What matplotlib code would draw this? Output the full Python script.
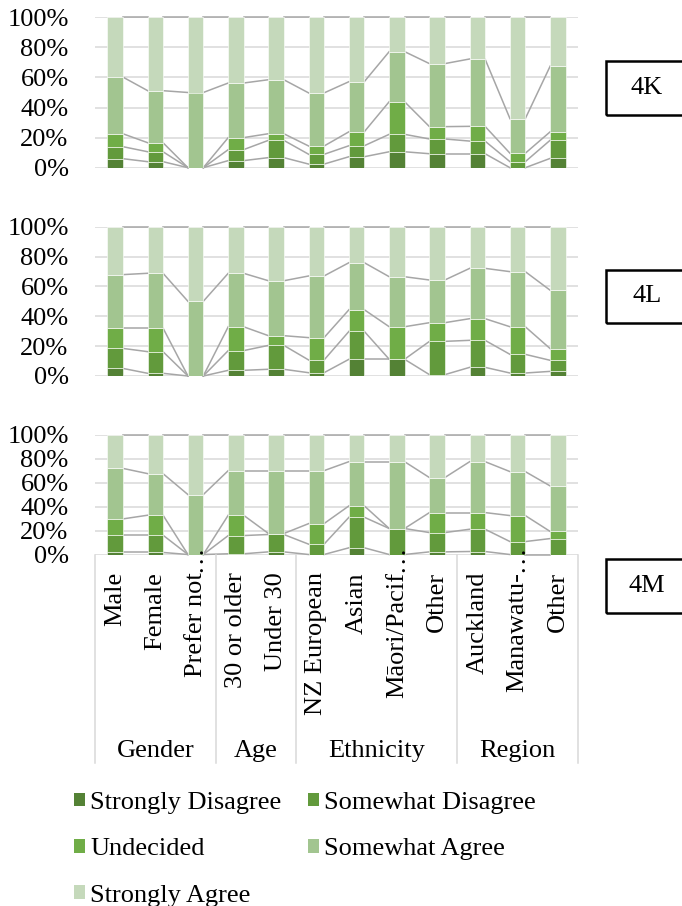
import matplotlib
matplotlib.use("Agg")
import matplotlib.pyplot as plt
import matplotlib.transforms as mtransforms
import numpy as np
from matplotlib.patches import Patch, Rectangle

plt.rcParams["font.family"] = ["Liberation Serif", "DejaVu Serif"]

# ── data (percent of respondents per response level) ─────────────────────
categories = ["Male", "Female", "Prefer not", "30 or older", "Under 30",
              "NZ European", "Asian", "Māori/Pacif", "Other",
              "Auckland", "Manawatu-", "Other"]
truncated = [False, False, True, False, False, False, False, True, False,
             False, True, False]
groups = ["Gender", "Age", "Ethnicity", "Region"]
group_sizes = [3, 2, 4, 3]
series_names = ["Strongly Disagree", "Somewhat Disagree", "Undecided",
                "Somewhat Agree", "Strongly Agree"]

# 4K
k_sd = [6.0, 4.0, 0, 4.7, 6.7, 2.4, 7.3, 10.6, 9.3, 9.3, 0, 6.2]
k_swd = [8.0, 6.6, 0, 7.3, 11.5, 6.5, 7.3, 11.6, 9.8, 8.4, 4.0, 12.1]
k_und = [8.6, 6.0, 0, 8.0, 4.4, 5.5, 9.3, 21.7, 8.2, 9.8, 5.6, 5.6]
k_swa = [37.7, 34.6, 50.0, 36.3, 35.9, 35.3, 33.3, 33.3, 41.9, 44.8, 23.0, 43.7]
k_sa = [39.7, 48.8, 50.0, 43.7, 41.5, 50.3, 42.8, 22.8, 30.8, 27.7, 67.4, 32.4]

# 4L
l_sd = [5.1, 1.8, 0, 3.8, 4.5, 2.2, 11.2, 11.2, 0.9, 5.8, 2.0, 3.1]
l_swd = [13.4, 14.5, 0, 13.2, 16.0, 8.5, 18.7, 0, 22.3, 18.1, 12.5, 7.4]
l_und = [13.6, 15.8, 0, 16.0, 6.5, 15.0, 14.5, 21.8, 12.5, 14.5, 18.5, 7.8]
l_swa = [35.8, 36.7, 50.0, 35.8, 36.8, 41.3, 31.5, 33.5, 28.6, 33.7, 36.9, 39.1]
l_sa = [32.1, 31.2, 50.0, 31.2, 36.2, 33.0, 24.1, 33.5, 35.7, 27.9, 30.1, 42.6]

# 4M
m_sd = [1.7, 1.7, 0, 0.6, 2.2, 0, 5.6, 0, 2.2, 2.5, 0, 0]
m_swd = [14.4, 14.4, 0, 15.2, 14.5, 8.6, 25.5, 21.7, 16.1, 18.6, 10.8, 13.3]
m_und = [13.6, 16.7, 0, 17.0, 0.8, 17.2, 9.5, 0, 16.7, 13.9, 21.7, 5.9]
m_swa = [42.2, 34.7, 50.0, 37.2, 52.5, 44.2, 36.9, 55.8, 29.2, 42.5, 36.7, 38.0]
m_sa = [28.1, 32.5, 50.0, 30.0, 30.0, 30.0, 22.5, 22.5, 35.8, 22.5, 30.8, 42.8]

panel_ids = ["4K", "4L", "4M"]
panel_data = [
    [k_sd, k_swd, k_und, k_swa, k_sa],
    [l_sd, l_swd, l_und, l_swa, l_sa],
    [m_sd, m_swd, m_und, m_swa, m_sa],
]

# ── style ────────────────────────────────────────────────────────────────
colors = ["#548235", "#629a3c", "#70ad47", "#a2c590", "#c5d9bb"]
GRID = "#d9d9d9"
SERIES_LINE = "#a6a6a6"
FS = 19
BAR_W = 0.38

W, H = 682, 906
fig = plt.figure(figsize=(W / 100, H / 100), dpi=100)

# plot areas in pixel rows (top, bottom)
panel_rows = [(17.3, 167.7), (226.7, 376.0), (434.7, 554.5)]
label_boxes = [(61, 115), (270, 323), (559, 613)]
X0, X1 = 95, 578


def draw_panel(ax, shares):
    x = np.arange(len(categories))
    bottom = np.zeros(len(categories))
    levels = []
    for vals, color in zip(shares, colors):
        vals = np.asarray(vals, dtype=float)
        ax.bar(x, vals, width=BAR_W, bottom=bottom, color=color,
               edgecolor="white", linewidth=0.4, zorder=3)
        bottom = bottom + vals
        levels.append(bottom.copy())
    # series lines joining the stacked segment tops of neighbouring bars
    for level in levels:
        for i in range(len(x) - 1):
            ax.plot([x[i] + BAR_W / 2, x[i + 1] - BAR_W / 2],
                    [level[i], level[i + 1]],
                    color=SERIES_LINE, lw=1.1, zorder=2, clip_on=False)

    ax.set_xlim(-0.5, len(categories) - 0.5)
    ax.set_ylim(0, 100)
    ticks = np.arange(0, 101, 20)
    ax.set_yticks(ticks)
    ax.set_yticklabels([f"{t}%" for t in ticks])
    ax.set_xticks([])
    ax.tick_params(axis="y", length=0, pad=19, labelsize=FS)
    ax.grid(axis="y", color=GRID, lw=1.1)
    ax.set_axisbelow(True)
    for sp in ax.spines.values():
        sp.set_visible(False)


axes = []
for (top, bot), shares in zip(panel_rows, panel_data):
    ax = fig.add_axes([X0 / W, 1 - bot / H, (X1 - X0) / W, (bot - top) / H])
    draw_panel(ax, shares)
    axes.append(ax)

# panel id boxes on the right
for (top, bot), pid in zip(label_boxes, panel_ids):
    fig.add_artist(Rectangle((606 / W, 1 - bot / H), (720 - 606) / W,
                             (bot - top) / H, transform=fig.transFigure,
                             fill=False, edgecolor="black", lw=1.8,
                             clip_on=False))
    fig.text(647 / W, 1 - (top + bot) / 2 / H, pid, ha="center", va="center",
             fontsize=FS)

# two-level category axis under the last panel
ax = axes[-1]
trans = mtransforms.blended_transform_factory(ax.transData, fig.transFigure)
label_top = 1 - 572 / H
for i, (name, cut) in enumerate(zip(categories, truncated)):
    ax.text(i, label_top, name, rotation=90, ha="center", va="top",
            fontsize=FS, transform=trans)
    if cut:
        ax.text(i, label_top, "…", rotation=90, ha="center", va="bottom",
                fontsize=FS, transform=trans)

edges = np.concatenate([[0], np.cumsum(group_sizes)]) - 0.5
for b in edges:
    ax.plot([b, b], [1 - 554.5 / H, 1 - 763 / H], color=GRID, lw=1.1,
            transform=trans, clip_on=False)
for g, lo, hi in zip(groups, edges[:-1], edges[1:]):
    ax.text((lo + hi) / 2, 1 - 757 / H, g, ha="center", va="baseline",
            fontsize=FS, transform=trans)

# legend, filled row-wise: SD | SwD / Und | SwA / SA
handles = [Patch(facecolor=c, edgecolor="none") for c in colors]
order = [0, 2, 4, 1, 3]
fig.legend([handles[i] for i in order], [series_names[i] for i in order],
           ncol=2, loc="upper left", bbox_to_anchor=(74 / W, 1 - 792 / H),
           frameon=False, fontsize=FS, borderpad=0, borderaxespad=0,
           handlelength=0.42, handleheight=0.42, handletextpad=0.2,
           columnspacing=1.0, labelspacing=0.92)

fig.savefig("out.png", dpi=100)
